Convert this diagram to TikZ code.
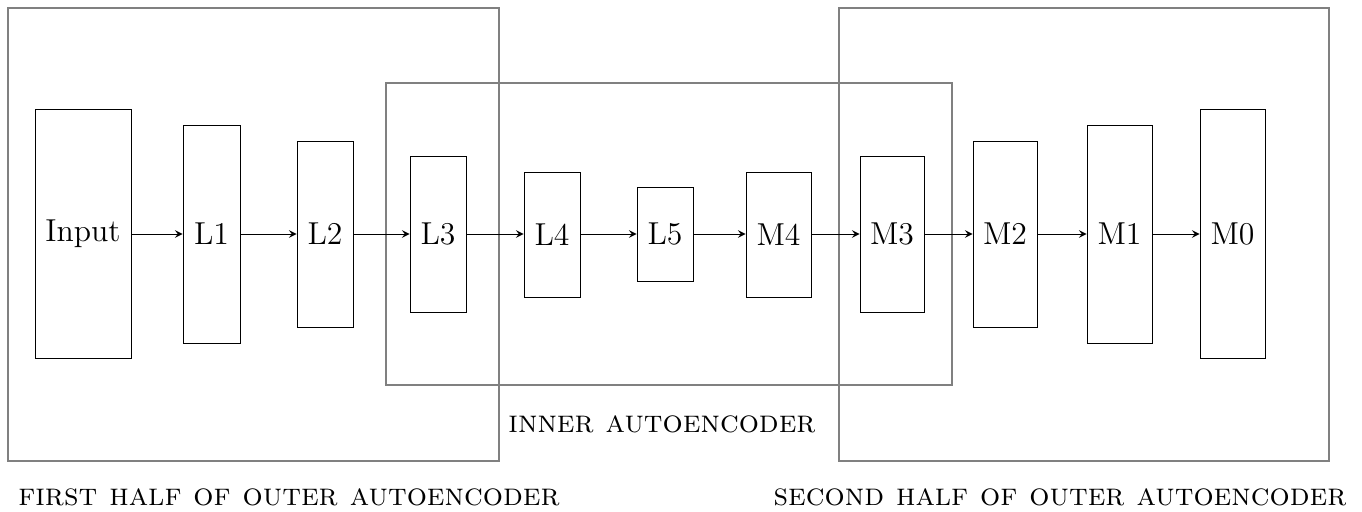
\documentclass[tikz,border=0pt]{standalone}
\usetikzlibrary{arrows}
\newcommand{\pxu}{0.3846pt}
\newcommand{\labelsize}{\fontsize{12.2}{15}\selectfont}
\begin{document}
\begin{tikzpicture}[x=0.3846pt, y=-0.3846pt,
  layer/.style={draw=black, line width=0.3pt, inner sep=0pt, font=\labelsize},
  frame/.style={draw=black!50, thick, inner sep=0pt},
  flow/.style={-stealth, line width=0.3pt},
  caption/.style={inner sep=0pt, font=\labelsize\scshape}]
\useasboundingbox (0,0) rectangle (1362,512);

% outer and inner autoencoder frames
\node[frame, minimum width={491*\pxu}, minimum height={453*\pxu}] (outerA) at (253.5,234.5) {};
\node[frame, minimum width={490*\pxu}, minimum height={453*\pxu}] (outerB) at (1084,234.5) {};
\node[frame, minimum width={566*\pxu}, minimum height={302*\pxu}] (inner) at (669,234) {};

% layers
\node[layer, minimum width={96*\pxu}, minimum height={249*\pxu}] (in) at (83,233.5) {Input};
\node[layer, minimum width={57*\pxu}, minimum height={218*\pxu}] (l1) at (211.5,234) {L1};
\node[layer, minimum width={56*\pxu}, minimum height={186*\pxu}] (l2) at (325,234) {L2};
\node[layer, minimum width={56*\pxu}, minimum height={156*\pxu}] (l3) at (438,234) {L3};
\node[layer, minimum width={56*\pxu}, minimum height={125*\pxu}] (l4) at (552,234.5) {L4};
\node[layer, minimum width={56*\pxu}, minimum height={94*\pxu}] (l5) at (665,234) {L5};
\node[layer, minimum width={65*\pxu}, minimum height={125*\pxu}] (m4) at (778.5,234.5) {M4};
\node[layer, minimum width={64*\pxu}, minimum height={156*\pxu}] (m3) at (892,234) {M3};
\node[layer, minimum width={64*\pxu}, minimum height={186*\pxu}] (m2) at (1005,234) {M2};
\node[layer, minimum width={65*\pxu}, minimum height={218*\pxu}] (m1) at (1119.5,234) {M1};
\node[layer, minimum width={65*\pxu}, minimum height={249*\pxu}] (m0) at (1232.5,233.5) {M0};

% connections
\foreach \a/\b in {in/l1, l1/l2, l2/l3, l3/l4, l4/l5, l5/m4, m4/m3, m3/m2, m2/m1, m1/m0}
  \draw[flow] (\a.east |- 0,234) -- (\b.west |- 0,234);

% captions
\node[caption] (capinner) at (662,424) {inner autoencoder};
\node[caption] (capA) at (289,497) {first half of outer autoencoder};
\node[caption] (capB) at (1060,497) {second half of outer autoencoder};
\end{tikzpicture}
\end{document}
